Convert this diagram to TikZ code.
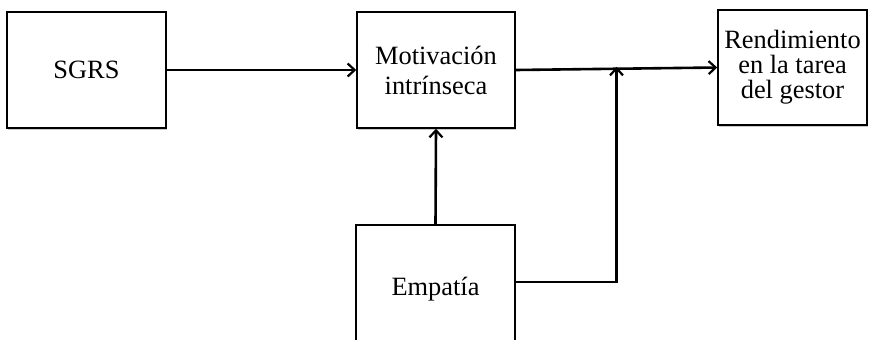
\documentclass[tikz,border=0pt]{standalone}
\usepackage{fontspec}
\setmainfont{Liberation Serif}
\usetikzlibrary{arrows.meta,calc,shadows}
\begin{document}
\begin{tikzpicture}[x=1bp,y=-1bp,
  block/.style={draw=black, line width=1.5bp, fill=white, inner sep=0pt,
    align=center, font=\fontsize{26.5}{25}\selectfont,
    drop shadow={shadow xshift=1.2bp, shadow yshift=-1.6bp, opacity=0.35, fill=black!60}},
  link/.style={line width=2.6bp, -{Straight Barb[length=7bp,width=13bp,line width=2.2bp]}}]
  \useasboundingbox (0,0) rectangle (869,339);
  \begin{scope}
    \clip (0,0) rectangle (869,339);
    % boxes
    \node[block, minimum width=159bp, minimum height=116bp] (sgrs) at (86.5,70) {SGRS};
    \node[block, minimum width=158bp, minimum height=116bp] (mot) at (436,70)
      {Motivación\\[5bp]intrínseca};
    \node[block, minimum width=149bp, minimum height=115bp] (rend) at (792.5,67.5)
      {Rendimiento\\en la tarea\\del gestor};
    \node[block, minimum width=159bp, minimum height=128bp] (emp) at (435.5,289) {Empatía};
    % connectors
    \draw[link] (sgrs.east) -- (mot.west);
    \draw[link] (mot.east) -- (rend.west);
    \coordinate (join) at ($(mot.east)!0.5!(rend.west)$);
    \draw[link] (emp.north) -- (mot.south);
    \draw[link] ([yshift=7bp]emp.east) -| ([yshift=2bp]join);
  \end{scope}
\end{tikzpicture}
\end{document}
